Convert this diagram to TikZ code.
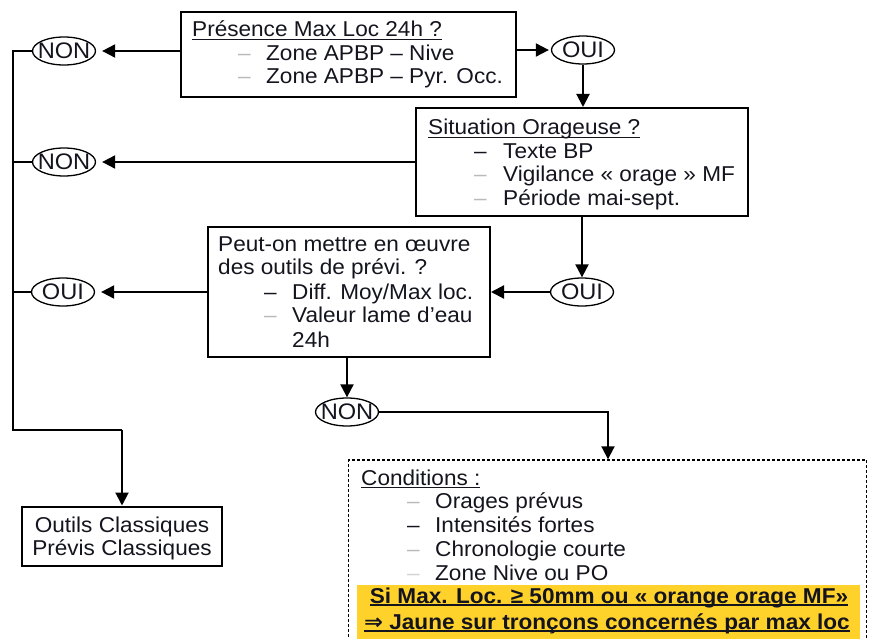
\documentclass[tikz,border=0pt]{standalone}
\usepackage{fontspec}
\setmainfont{Liberation Sans}[FakeStretch=1.05]
\newfontfamily\djv{DejaVu Sans}[FakeStretch=1.05]
\usetikzlibrary{arrows.meta,shapes.geometric}
\definecolor{yel}{RGB}{255,209,43}
\definecolor{txtc}{RGB}{20,20,30}
\newcommand\gdash{\textcolor{gray!55}{–}}
\newcommand\bdash{–}
\newcommand\myul[2][1.2pt]{{\setbox0\hbox{#2}\rlap{\rule[-3pt]{\wd0}{#1}}\box0}}
\begin{document}
\begin{tikzpicture}[x=1pt,y=-1pt,
  every node/.style={font=\fontsize{21.5pt}{24pt}\selectfont, text=txtc},
  box/.style={draw, line width=2pt, inner sep=0pt},
  oval/.style={ellipse, draw, line width=1.3pt, minimum width=63pt, minimum height=28pt, inner sep=0pt, font=\fontsize{22.5pt}{24pt}\selectfont},
  arr/.style={-{Triangle[length=13pt,width=13pt]}, line width=2pt},
  ln/.style={line width=2pt},
  txt/.style={anchor=base west, inner sep=0pt},
  ctxt/.style={anchor=base, inner sep=0pt}]
\useasboundingbox (0,0) rectangle (876,639);

% boxes
\node[box, minimum width=335pt, minimum height=85pt] (b1) at (348.5,54.5) {};
\node[box, minimum width=332pt, minimum height=108pt] (b2) at (582,162) {};
\node[box, minimum width=282pt, minimum height=130pt] (b3) at (349,292) {};
\node[box, minimum width=200pt, minimum height=59pt] (b4) at (122,536) {};
\fill[yel] (357,585) rectangle (860,639);
\node[draw, line width=1.4pt, dash pattern=on 3pt off 2pt, minimum width=518pt, minimum height=180pt, inner sep=0pt] (b5) at (607.5,550) {};

% ovals
\node[oval] (non1) at (64,51) {\makebox[0pt]{NON}};
\node[oval] (non2) at (64,162) {\makebox[0pt]{NON}};
\node[oval] (oui1) at (63,292) {\makebox[0pt]{OUI}};
\node[oval] (ouit) at (583,50) {\makebox[0pt]{OUI}};
\node[oval] (oui3) at (582,292) {\makebox[0pt]{OUI}};
\node[oval] (non4) at (347,412) {\makebox[0pt]{NON}};

% box 1 text
\node[txt] (t11) at (192,37) {\myul{Présence Max Loc 24h ?}};
\node[txt] (t12) at (238,61) {\gdash};
\node[txt] (t12b) at (266,61) {Zone APBP – Nive};
\node[txt] (t13) at (238,84) {\gdash};
\node[txt] (t13b) at (266,84) {Zone APBP – Pyr. Occ.};

% box 2 text
\node[txt] (t21) at (428,135) {\myul{Situation Orageuse ?}};
\node[txt] (t22) at (474,159) {\bdash};
\node[txt] (t22b) at (503,159) {Texte BP};
\node[txt] (t23) at (474,182) {\gdash};
\node[txt] (t23b) at (503,182) {Vigilance « orage » MF};
\node[txt] (t24) at (474,206) {\gdash};
\node[txt] (t24b) at (503,206) {Période mai-sept.};

% box 3 text
\node[txt] (t31) at (218,252) {Peut-on mettre en œuvre};
\node[txt] (t32) at (218,275) {des outils de prévi. ?};
\node[txt] (t33) at (264,299) {\bdash};
\node[txt] (t33b) at (292,299) {Diff. Moy/Max loc.};
\node[txt] (t34) at (264,323) {\gdash};
\node[txt] (t34b) at (292,323) {Valeur lame d’eau};
\node[txt] (t35) at (292,347) {24h};

% box 4 text
\node[ctxt] (t41) at (122,532) {Outils Classiques};
\node[ctxt] (t42) at (122,555) {Prévis Classiques};

% dashed box text
\node[txt] (t51) at (361,485) {\myul{Conditions :}};
\node[txt] (t52) at (407,508) {\gdash};
\node[txt] (t52b) at (435,508) {Orages prévus};
\node[txt] (t53) at (407,532) {\bdash};
\node[txt] (t53b) at (435,532) {Intensités fortes};
\node[txt] (t54) at (407,556) {\gdash};
\node[txt] (t54b) at (435,556) {Chronologie courte};
\node[txt] (t55) at (407,580) {\textcolor{gray!35}{–}};
\node[txt] (t55b) at (435,580) {Zone Nive ou PO};
\node[ctxt] (t56) at (609,603) {\bfseries\myul[1.6pt]{Si Max. Loc. ≥ 50mm ou « orange orage MF»}};
\node[ctxt] (t57) at (607,629) {\bfseries\myul[1.6pt]{{\djv ⇒} Jaune sur tronçons concernés par max loc}};

% connectors
\draw[arr, shorten >=6pt] (b1.west |- non1) -- (non1.east);
\draw[arr, shorten >=2pt] (b1.east |- ouit) -- (ouit.west);
\draw[arr] (ouit.south) -- (ouit.south |- b2.north);
\draw[arr, shorten >=6pt] (b2.west |- non2) -- (non2.east);
\draw[arr] (b2.south -| oui3) -- (oui3.north);
\draw[arr] (oui3.west) -- (b3.east |- oui3);
\draw[arr, shorten >=6pt] (b3.west |- oui1) -- (oui1.east);
\draw[arr] (b3.south -| non4) -- (non4.north);

\coordinate (c1) at (608,412);
\draw[arr] (non4.east) -- (c1) -- (c1 |- b5.north);

\coordinate (l1) at (13,51);
\coordinate (l2) at (13,430);
\coordinate (l3) at (122,430);
\draw[ln] (non1.west) -- (l1) -- (l2) -- (l3);
\draw[arr] (l3) -- (b4.north);
\draw[ln] (non2.west) -- (non2.west -| l1);
\draw[ln] (oui1.west) -- (oui1.west -| l1);
\end{tikzpicture}
\end{document}
